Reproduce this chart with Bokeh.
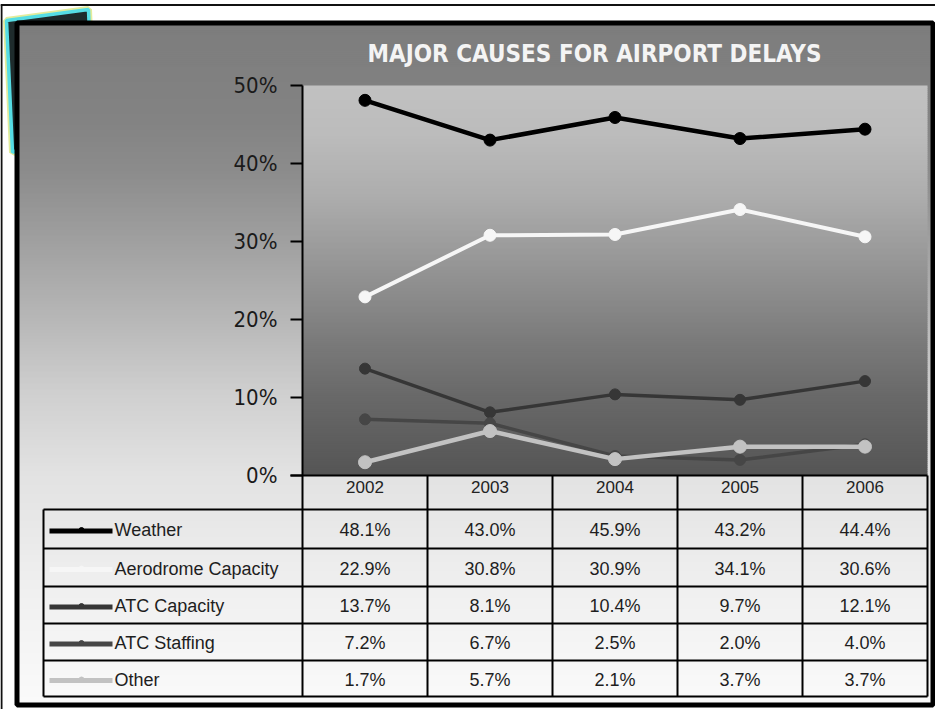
import numpy as np
from bokeh.plotting import figure
from bokeh.models import Range1d
from bokeh.core.properties import value
from bokeh.embed import file_html
from bokeh.resources import INLINE

# ---------------- data ----------------
years = [2002, 2003, 2004, 2005, 2006]
year_labels = ["2002", "2003", "2004", "2005", "2006"]
series_names = ["Weather", "Aerodrome Capacity", "ATC Capacity", "ATC Staffing", "Other"]
weather = [48.1, 43.0, 45.9, 43.2, 44.4]
aerodrome_capacity = [22.9, 30.8, 30.9, 34.1, 30.6]
atc_capacity = [13.7, 8.1, 10.4, 9.7, 12.1]
atc_staffing = [7.2, 6.7, 2.5, 2.0, 4.0]
other = [1.7, 5.7, 2.1, 3.7, 3.7]
y_ticks = [0, 10, 20, 30, 40, 50]
y_tick_labels = ["0%", "10%", "20%", "30%", "40%", "50%"]
title_text = "MAJOR CAUSES FOR AIRPORT DELAYS"

series_values = [weather, aerodrome_capacity, atc_capacity, atc_staffing, other]

# ---------------- layout (page pixels) ----------------
W, H = 935, 709
OFF = 8
NARROW = "'DejaVu Sans Condensed', 'Liberation Sans', sans-serif"
SANS = "'Liberation Sans', Arial, sans-serif"


def cx(px):
    return np.asarray(px, dtype=float) - OFF if np.ndim(px) else px - OFF


def cy(py):
    return np.asarray(py, dtype=float) - OFF if np.ndim(py) else py - OFF


PLOT_L, PLOT_R, PLOT_T, PLOT_B = 310, 935, 93, 483
Y_MAX = 50
band = (PLOT_R - PLOT_L) / len(years)
ppu = (PLOT_B - PLOT_T) / Y_MAX

dx_start = years[0] - (cx(PLOT_L) + band / 2) / band
dx_end = dx_start + W / band
dy_start = 0 - (H - cy(PLOT_B)) / ppu
dy_end = dy_start + H / ppu

p = figure(width=W, height=H, x_range=Range1d(0, W), y_range=Range1d(H, 0),
           output_backend="svg", toolbar_location=None, min_border=0,
           x_axis_location=None, y_axis_location=None)
p.extra_x_ranges = {"dx": Range1d(dx_start, dx_end)}
p.extra_y_ranges = {"dy": Range1d(dy_start, dy_end)}
p.grid.visible = False
p.outline_line_color = None
p.background_fill_color = "white"
p.border_fill_color = "white"


def grey(v):
    v = int(round(min(255, max(0, v))))
    return "#%02x%02x%02x" % (v, v, v)


def vgrad(x0, x1, y0, y1, stops_y, stops_v, step=2):
    ys = np.arange(y0, y1, step, dtype=float)
    vals = np.interp(ys + step / 2, stops_y, stops_v)
    bottoms = np.minimum(ys + step + 0.6, y1)
    p.quad(left=cx(x0), right=cx(x1), top=cy(ys), bottom=cy(bottoms),
           fill_color=[grey(v) for v in vals], line_color=None)


# outer thin page border
p.segment(x0=[cx(8), cx(9)], y0=[cy(12.5), cy(12)], x1=[W + 5, cx(9)], y1=[cy(12.5), H + 5],
          line_color="#111111", line_width=2)

# sticky-note decoration peeking from behind the chart
note_x = [14, 96, 100, 20]
note_y = [28, 17, 120, 160]
p.patch(cx(note_x), cy(note_y), fill_color="#1e2b2c", line_color="#e3ec9c", line_width=7)
p.patch(cx(note_x), cy(note_y), fill_color="#1e2b2c", line_color="#55dde5", line_width=3.5)

# chart area background gradient
vgrad(24, 945, 30, 714,
      [33, 130, 180, 250, 330, 400, 480, 600, 710],
      [125, 131, 140, 160, 184, 207, 226, 240, 250])

# thick chart frame
p.quad(left=cx(24.5), right=W - 2.5, top=cy(30.5), bottom=cy(712.5),
       fill_color=None, line_color="black", line_width=5)

# plot area gradient
vgrad(PLOT_L, PLOT_R, PLOT_T, PLOT_B,
      [93, 140, 200, 250, 300, 350, 400, 483],
      [193, 188, 174, 157, 140, 122, 106, 85])

# title
p.text(x=[cx(602)], y=[cy(61)], text=[title_text], text_color="#f4f4f4",
       text_font=value(NARROW), text_font_style="bold",
       text_font_size="24px", text_align="center", text_baseline="middle")

# y axis (drawn with the data scale)
p.segment(x0=[cx(PLOT_L)], x1=[cx(PLOT_L)], y0=[0], y1=[Y_MAX], y_range_name="dy",
          line_color="black", line_width=2)
p.segment(x0=cx(298), x1=cx(PLOT_L), y0=y_ticks, y1=y_ticks, y_range_name="dy",
          line_color="black", line_width=2)
p.text(x=cx(285), y=y_ticks, text=y_tick_labels, y_range_name="dy",
       text_font=value(NARROW), text_font_size="22px",
       text_color="#1a1a1a", text_align="right", text_baseline="middle")
# category axis line
p.segment(x0=[cx(298)], x1=[cx(PLOT_R)], y0=[0], y1=[0], y_range_name="dy",
          line_color="black", line_width=2)

# series
colors = ["#000000", "#f6f6f6", "#363636", "#464646", "#c2c2c2"]
widths = [4.5, 4, 3.5, 3.5, 4.5]
msizes = [12, 12, 11, 11, 13]
for vals, c, lw, ms in zip(series_values, colors, widths, msizes):
    p.line(years, vals, x_range_name="dx", y_range_name="dy", line_color=c, line_width=lw)
    p.scatter(years, vals, x_range_name="dx", y_range_name="dy", size=ms,
              fill_color=c, line_color=c, marker="circle")

# ---------------- data table ----------------
TAB_L = 51
HEAD_T = PLOT_B
ROW_T = [517, 556, 594, 631, 668]
ROW_B = 704
row_centers = [(a + b) / 2 for a, b in zip(ROW_T, ROW_T[1:] + [ROW_B])]

# vertical grid lines at category boundaries
bounds = [y - 0.5 for y in years] + [years[-1] + 0.5]
p.segment(x0=bounds, x1=bounds, y0=cy(HEAD_T), y1=cy(ROW_B), x_range_name="dx",
          line_color="black", line_width=2)
p.segment(x0=[cx(TAB_L)], x1=[cx(TAB_L)], y0=[cy(ROW_T[0])], y1=[cy(ROW_B)],
          line_color="black", line_width=2)
hl = ROW_T + [ROW_B]
p.segment(x0=cx(TAB_L), x1=cx(PLOT_R), y0=cy(hl), y1=cy(hl),
          line_color="black", line_width=2)

# header (years)
p.text(x=years, y=cy(494), text=year_labels, x_range_name="dx",
       text_font=value(SANS), text_font_size="17px",
       text_color="#222222", text_align="center", text_baseline="middle")

# legend keys and labels
for name, c, rc in zip(series_names, colors, row_centers):
    p.line(x=cx(np.array([57, 120])), y=cy(np.array([rc + 2, rc + 2])),
           line_color=c, line_width=5)
    p.scatter(x=[cx(89)], y=[cy(rc + 1)], size=5, fill_color=c, line_color=c)
    p.text(x=[cx(122)], y=[cy(rc + 1)], text=[name],
           text_font=value(SANS), text_font_size="18px",
           text_color="#1e1e1e", text_align="left", text_baseline="middle")

# values
for vals, rc in zip(series_values, row_centers):
    p.text(x=years, y=cy(rc + 1), text=["%.1f%%" % v for v in vals], x_range_name="dx",
           text_font=value(SANS), text_font_size="18px",
           text_color="#1e1e1e", text_align="center", text_baseline="middle")

open("out.html", "w").write(file_html(p, INLINE))
